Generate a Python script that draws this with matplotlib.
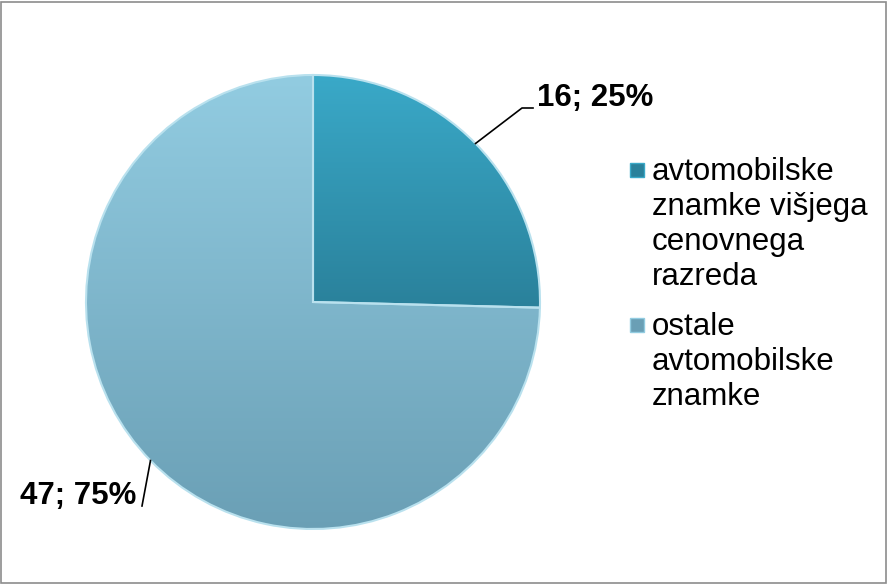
import numpy as np
import matplotlib
matplotlib.use('Agg')
import matplotlib.pyplot as plt
from matplotlib.patches import Rectangle
from matplotlib.lines import Line2D
from matplotlib.colors import LinearSegmentedColormap

plt.rcParams['font.family'] = ['Liberation Sans', 'DejaVu Sans']

# data
categories = ['avtomobilske\nznamke višjega\ncenovnega\nrazreda',
              'ostale\navtomobilske\nznamke']
counts = [16, 47]
percents = [25, 75]
colors = ['#2F8FAA', '#7DB4CB']
# top / bottom shades used for the gradient fill of each slice
shades = [('#3AA9C8', '#2A819B'), ('#92CCE1', '#6A9FB5')]

W, H = 888, 584
fig = plt.figure(figsize=(W / 100, H / 100), dpi=100)

# outer frame
fig.patches.append(Rectangle((1 / W, 1 / H), 1 - 3 / W, 1 - 3 / H, transform=fig.transFigure,
                             fill=False, edgecolor='#8C8C8C', linewidth=1.2))

# pie placed so that centre ~ (313, 302) px, radius ~ 227 px
cx, cy, r = 313, 302, 227
ax = fig.add_axes([(cx - r) / W, (H - cy - r) / H, 2 * r / W, 2 * r / H])
wedges, _ = ax.pie(counts, colors=colors, startangle=90, counterclock=False,
                   radius=1, wedgeprops=dict(edgecolor='#B9E1EE', linewidth=1.5))
ax.set_axis_off()

# vertical gradient inside each wedge
for w, (ctop, cbot) in zip(wedges, shades):
    verts = w.get_path().vertices
    ylo, yhi = verts[:, 1].min(), verts[:, 1].max()
    cmap = LinearSegmentedColormap.from_list('g', [cbot, ctop])
    grad = np.linspace(0, 1, 256).reshape(-1, 1)
    im = ax.imshow(grad, cmap=cmap, origin='lower', aspect='auto',
                   extent=(-1, 1, ylo, yhi), zorder=w.get_zorder() + 0.1)
    im.set_clip_path(w)
    w.set_facecolor('none')
    w.set_zorder(w.get_zorder() + 0.2)
ax.set_xlim(-1, 1)
ax.set_ylim(-1, 1)

# data labels with leader lines
label_pos = [(537, 98, 'left'), (136, 496, 'right')]
for w, c, p, (tx, ty, ha) in zip(wedges, counts, percents, label_pos):
    mid = np.deg2rad((w.theta1 + w.theta2) / 2)
    x0 = cx + r * np.cos(mid)
    y0 = cy - r * np.sin(mid)
    fig.text(tx / W, 1 - ty / H, f'{c}; {p}%', ha=ha, va='center',
             fontsize=22.5, fontweight='bold')
    if ha == 'left':
        xs = [x0, tx - 15, tx - 4]
        ys = [y0, ty + 10, ty + 10]
    else:
        xs = [x0, tx + 6]
        ys = [y0, ty + 10]
    fig.lines.append(Line2D([x / W for x in xs], [1 - y / H for y in ys],
                            transform=fig.transFigure, color='black', linewidth=1.2))

# legend
leg_x, line_h = 652, 35
leg_y = [172, 327]
for lab, (ctop, cbot), ly in zip(categories, shades, leg_y):
    fig.patches.append(Rectangle((630 / W, 1 - (ly + 5) / H), 14 / W, 14 / H,
                                 transform=fig.transFigure, facecolor=cbot,
                                 edgecolor=ctop, linewidth=1.0))
    for i, part in enumerate(lab.split('\n')):
        fig.text(leg_x / W, 1 - (ly + i * line_h) / H, part, ha='left', va='center',
                 fontsize=22.5)

fig.savefig('out.png', dpi=100, facecolor='white')
